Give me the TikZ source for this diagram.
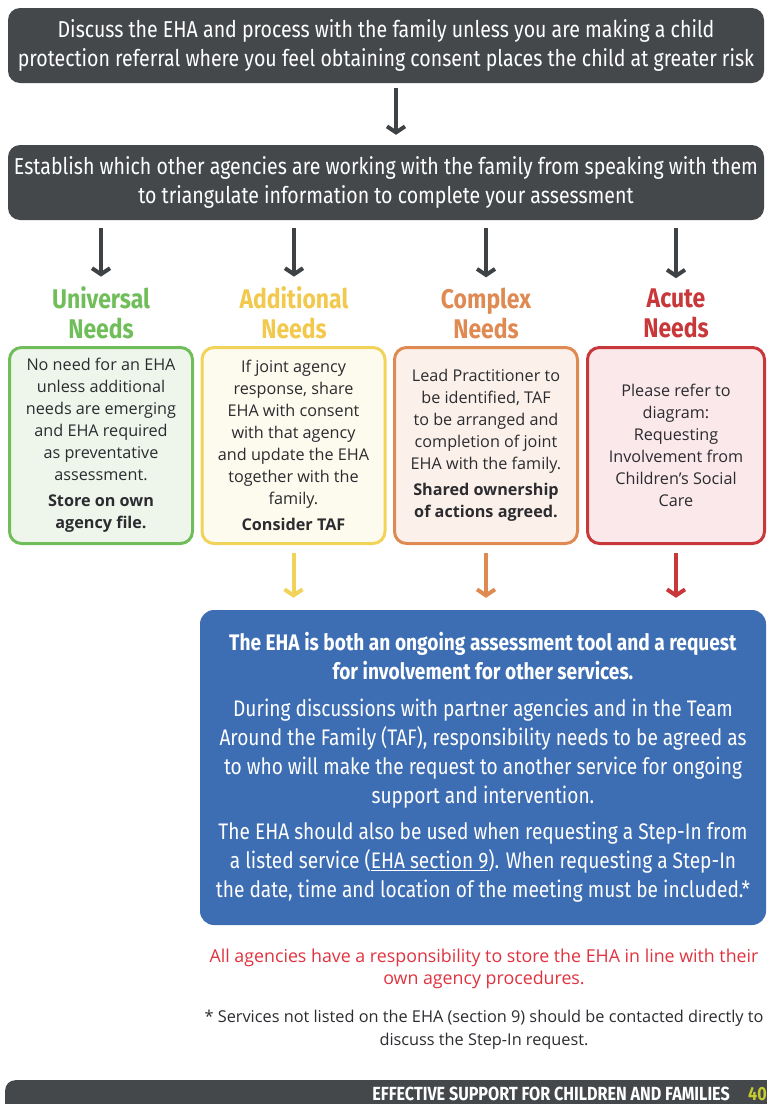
\documentclass[tikz,border=0pt]{standalone}
\usepackage{fontspec}
\setmainfont{Open Sans}
\newfontfamily\condfont[FakeStretch=0.85]{Fira Sans}
\usetikzlibrary{arrows.meta, positioning}

\definecolor{darkgrey}{HTML}{45484B}
\definecolor{arrowgrey}{HTML}{3F4245}
\definecolor{textdark}{HTML}{2B2B30}
\definecolor{uniGreen}{HTML}{70BE5A}
\definecolor{uniFill}{HTML}{EEF6EC}
\definecolor{addYellow}{HTML}{F1D35A}
\definecolor{addHead}{HTML}{F2C94C}
\definecolor{addFill}{HTML}{FDFBEE}
\definecolor{cplxOrange}{HTML}{DE8A52}
\definecolor{cplxFill}{HTML}{FBF1EA}
\definecolor{acuteRed}{HTML}{C8373A}
\definecolor{acuteFill}{HTML}{FBE8EB}
\definecolor{ehaBlue}{HTML}{3D6DB3}
\definecolor{noteRed}{HTML}{E0323F}
\definecolor{pageNum}{HTML}{C6CC2E}

\tikzset{
  darkbox/.style={rectangle, rounded corners=12pt, fill=darkgrey, text=white,
    font=\condfont\fontsize{23}{29}\selectfont, align=center,
    minimum width=756pt, minimum height=75pt, inner sep=0pt},
  needbox/.style={rectangle, rounded corners=12pt, line width=3pt,
    minimum width=183pt, minimum height=196pt, align=center, inner sep=0pt,
    font=\fontsize{16.2}{22}\selectfont, text=textdark},
  needhead/.style={font=\condfont\bfseries\fontsize{27}{30}\selectfont,
    align=center, inner sep=0pt},
  downarrow/.style={-{Straight Barb[length=6pt,width=18pt]}, line width=4pt},
}

\begin{document}
\begin{tikzpicture}[x=1pt, y=-1pt]
  \useasboundingbox (0,0) rectangle (767,1104);

  % top boxes
  \node (Discuss) [darkbox] at (386, 45.5)
    {Discuss the EHA and process with the family unless you are making a child\\
     protection referral where you feel obtaining consent places the child at greater risk};
  \node (Establish) [darkbox] at (386, 182.5)
    {Establish which other agencies are working with the family from speaking with them\\
     to triangulate information to complete your assessment};
  \draw [downarrow, draw=arrowgrey, shorten <=5pt, shorten >=10pt]
    ([xshift=10pt]Discuss.south) -- ([xshift=10pt]Establish.north);

  % needs headings
  \node (UniHead) [needhead, text=uniGreen] at (101, 313) {Universal\\Needs};
  \node (AddHead) [needhead, text=addHead] at (294, 313) {Additional\\Needs};
  \node (CplxHead) [needhead, text=cplxOrange] at (486, 313) {Complex\\Needs};
  \node (AcuteHead) [needhead, text=acuteRed] at (676, 313) {Acute\\Needs};

  \foreach \h in {UniHead, AddHead, CplxHead, AcuteHead}
    \draw [downarrow, draw=arrowgrey, shorten <=8pt, shorten >=10pt]
      (Establish.south -| \h) -- (\h.north);

  % needs boxes
  \node (Uni) [needbox, draw=uniGreen, fill=uniFill] at (101, 445.5)
    {No need for an EHA\\unless additional\\needs are emerging\\and EHA required\\
     as preventative\\assessment.\\[4pt]
     \textbf{Store on own}\\\textbf{agency file.}};
  \node (Add) [needbox, draw=addYellow, fill=addFill] at (293.5, 445.5)
    {If joint agency\\response, share\\EHA with consent\\with that agency\\
     and update the EHA\\together with the\\family.\\[4pt]
     \textbf{Consider TAF}};
  \node (Cplx) [needbox, draw=cplxOrange, fill=cplxFill] at (486, 445.5)
    {Lead Practitioner to\\be identified, TAF\\to be arranged and\\completion of joint\\
     EHA with the family.\\[4pt]
     \textbf{Shared ownership}\\\textbf{of actions agreed.}};
  \node (Acute) [needbox, draw=acuteRed, fill=acuteFill, minimum width=177pt] at (676, 445.5)
    {Please refer to\\diagram:\\Requesting\\Involvement from\\Children’s Social\\Care};

  % blue box
  \node (EHA) [rectangle, rounded corners=14pt, fill=ehaBlue, text=white,
    minimum width=566pt, minimum height=315pt, inner sep=0pt, align=center,
    font=\condfont\fontsize{22.5}{29}\selectfont] at (483, 767.5)
    {\textbf{The EHA is both an ongoing assessment tool and a request}\\
     \textbf{for involvement for other services.}\\[8pt]
     During discussions with partner agencies and in the Team\\
     Around the Family (TAF), responsibility needs to be agreed as\\
     to who will make the request to another service for ongoing\\
     support and intervention.\\[7pt]
     The EHA should also be used when requesting a Step-In from\\
     a listed service (\underline{EHA section 9}). When requesting a Step-In\\
     the date, time and location of the meeting must be included.*};

  \draw [downarrow, draw=addYellow, shorten <=8pt, shorten >=12pt] (Add) -- (EHA.north -| Add);
  \draw [downarrow, draw=cplxOrange, shorten <=8pt, shorten >=12pt] (Cplx) -- (EHA.north -| Cplx);
  \draw [downarrow, draw=acuteRed, shorten <=8pt, shorten >=12pt] (Acute) -- (EHA.north -| Acute);

  % notes
  \node (Store) [text=noteRed, align=center, font=\fontsize{17.8}{22}\selectfont] at (484, 969)
    {All agencies have a responsibility to store the EHA in line with their\\own agency procedures.};
  \node (Note) [text=textdark, align=center, font=\fontsize{16.3}{23}\selectfont] at (484, 1029.5)
    {* Services not listed on the EHA (section 9) should be contacted directly to\\discuss the Step-In request.};

  % footer
  \node (Footer) [rectangle, rounded corners=10pt, fill=darkgrey, minimum width=800pt,
    minimum height=40pt, anchor=north west, inner sep=0pt] at (5, 1080) {};
  \node (FooterText) [anchor=east, text=white, inner sep=0pt,
    font=\condfont\bfseries\fontsize{19}{20}\selectfont] at (730, 1094)
    {EFFECTIVE SUPPORT FOR CHILDREN AND FAMILIES};
  \node (PageNo) [anchor=west, text=pageNum, inner sep=0pt,
    font=\condfont\bfseries\fontsize{19}{20}\selectfont] at (748, 1094) {40};
\end{tikzpicture}
\end{document}
